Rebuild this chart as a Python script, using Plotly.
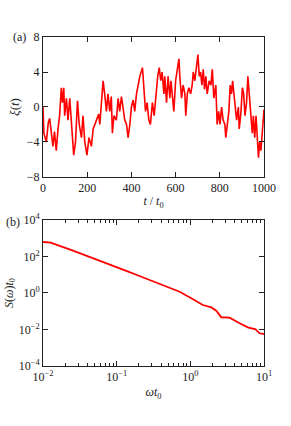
import plotly.graph_objects as go

# Panel (a): time series xi(t)
t_vals = [0, 4, 15, 24, 30, 37, 45, 52, 60, 68, 75, 83, 88, 94, 98, 106, 113, 121, 128, 139, 147,
          156, 164, 174, 181, 189, 199, 208, 219, 227, 242, 252, 257, 264, 272, 279, 287, 294, 302,
          309, 314, 321, 332, 340, 347, 355, 362, 370, 378, 385, 393, 400, 408, 415, 423, 430, 438,
          450, 456, 464, 471, 479, 486, 495, 503, 511, 519, 526, 533, 539, 547, 551, 559, 566, 574,
          579, 586, 592, 600, 607, 615, 619, 627, 634, 642, 646, 653, 660, 668, 675, 680, 687, 695,
          701, 707, 713, 719, 725, 731, 737, 743, 752, 760, 766, 773, 782, 788, 795, 801, 808, 815,
          823, 827, 835, 841, 847, 853, 858, 864, 870, 876, 884, 888, 896, 902, 908, 914, 921, 927,
          934, 940, 947, 952, 958, 964, 970, 975, 980, 986, 992, 997, 1000]
xi_vals = [0.0, -3.0, -4.0, -1.8, -1.3, -3.2, -4.5, -2.8, -5.0, -2.5, -1.0, 2.2, 0.5, 2.2, -1.0,
           1.0, -1.5, 1.0, -1.5, -5.5, -4.0, 0.7, -2.0, -3.5, -1.0, -4.0, -5.5, -3.5, -4.5, -2.5,
           -1.5, -0.8, -2.0, 0.0, 3.0, 1.5, -0.5, 1.5, -0.5, 1.2, -3.0, -1.0, -1.5, 1.0, -0.5, 1.2,
           0.0, -1.5, -2.0, -3.5, -2.0, 0.0, 0.8, -0.5, 1.5, 2.5, 3.5, 4.5, 2.5, -0.5, 0.5, -1.5,
           -2.0, 0.5, -1.0, 1.5, 3.5, 4.5, 3.0, 4.0, 1.5, 3.5, 0.5, 3.5, 1.0, 3.0, 1.5, -0.5, 3.0,
           4.0, 5.5, 3.5, 1.0, 2.5, 1.5, -1.0, 1.5, 2.2, 1.5, 2.5, 4.0, 3.0, 4.5, 6.0, 3.5, 4.0,
           2.5, 4.3, 2.0, 3.5, 1.5, 3.0, 2.5, 4.3, 1.0, 2.5, -2.0, -0.5, -2.0, 0.0, -1.5, -2.0,
           -3.5, -1.5, -0.5, 2.5, 1.5, 3.0, 1.0, 0.0, -1.5, 0.0, -2.5, -0.5, 2.2, 1.5, -1.0, 0.5,
           3.5, 1.0, -1.5, -3.0, -1.0, -3.5, -1.0, -4.5, -5.8, -4.0, -5.0, -3.0, -0.5, -0.3]
t_ticks = [0, 200, 400, 600, 800, 1000]
xi_ticks = [-8, -4, 0, 4, 8]

# Panel (b): spectrum S(omega) t0
w_vals = [0.01, 0.0127, 0.0255, 0.0389, 0.0724, 0.101, 0.135, 0.204, 0.425, 0.716, 1.03, 1.48,
          1.93, 2.25, 2.63, 3.41, 4.67, 6.03, 7.69, 8.71, 10.0]
S_vals = [624, 575, 209, 110, 45.7, 27.5, 16.2, 8.5, 2.75, 1.17, 0.513, 0.219, 0.162, 0.107,
          0.0468, 0.0447, 0.0219, 0.0132, 0.0102, 0.0062, 0.0055]
w_ticks = [0.01, 0.1, 1, 10]
w_labels = ["10<sup>−2</sup>", "10<sup>−1</sup>", "10<sup>0</sup>", "10<sup>1</sup>"]
w_minor = [m * d for d in (0.01, 0.1, 1) for m in range(2, 10)]
S_ticks = [1e-4, 1e-2, 1, 1e2, 1e4]
S_labels = ["10<sup>−4</sup>", "10<sup>−2</sup>", "10<sup>0</sup>", "10<sup>2</sup>", "10<sup>4</sup>"]

FONT = "Liberation Serif"
AX = "#222222"

fig = go.Figure()
fig.add_trace(go.Scatter(x=t_vals, y=xi_vals, mode="lines",
                         line=dict(color="#ff0000", width=1.6), xaxis="x", yaxis="y"))
fig.add_trace(go.Scatter(x=w_vals, y=S_vals, mode="lines",
                         line=dict(color="#ff0000", width=1.8), xaxis="x2", yaxis="y2"))

common = dict(showline=True, linecolor=AX, linewidth=1, mirror="allticks", ticks="inside",
              tickcolor=AX, ticklen=5, showgrid=False, zeroline=False, automargin=False,
              tickfont=dict(family=FONT, size=12, color="#222"))

fig.update_layout(
    width=291, height=426,
    margin=dict(l=43, r=27, t=37, b=60),
    paper_bgcolor="white", plot_bgcolor="white",
    showlegend=False,
    font=dict(family=FONT, size=12, color="#222"),
    xaxis=dict(domain=[0, 1], anchor="y", range=[0, 1000], tickvals=t_ticks,
               title=dict(text="<i>t</i> / <i>t</i><sub>0</sub>", standoff=2,
                          font=dict(family=FONT, size=12)), **common),
    yaxis=dict(domain=[0.5745, 1.0], anchor="x", range=[-8, 8], tickvals=xi_ticks,
               title=dict(text="<i>ξ</i>(<i>t</i>)", standoff=4,
                          font=dict(family=FONT, size=13)), **common),
    xaxis2=dict(domain=[0, 1], anchor="y2", type="log", range=[-2, 1],
                tickvals=w_ticks, ticktext=w_labels,
                minor=dict(tickmode="array", tickvals=w_minor, ticks="inside", ticklen=3,
                           tickcolor=AX, showgrid=False),
                title=dict(text="<i>ωt</i><sub>0</sub>", standoff=4,
                           font=dict(family=FONT, size=12)), **common),
    yaxis2=dict(domain=[0, 0.4438], anchor="x2", type="log", range=[-4, 4],
                tickvals=S_ticks, ticktext=S_labels,
                title=dict(text="<i>S</i>(<i>ω</i>)<i>t</i><sub>0</sub>", standoff=2,
                           font=dict(family=FONT, size=12)), **common),
)

pw, ph = 291 - 43 - 27, 426 - 37 - 60
fig.add_annotation(text="(a)", x=(19 - 43) / pw, y=(426 - 60 - 37) / ph, xref="paper", yref="paper",
                   showarrow=False, xanchor="center", yanchor="middle",
                   font=dict(family=FONT, size=12, color="#222"))
fig.add_annotation(text="(b)", x=(13 - 43) / pw, y=(426 - 60 - 222) / ph, xref="paper", yref="paper",
                   showarrow=False, xanchor="center", yanchor="middle",
                   font=dict(family=FONT, size=12, color="#222"))

fig.write_html("out.html", config={"displayModeBar": False},
               post_script="document.body.style.margin='0';document.body.style.overflow='hidden';")
